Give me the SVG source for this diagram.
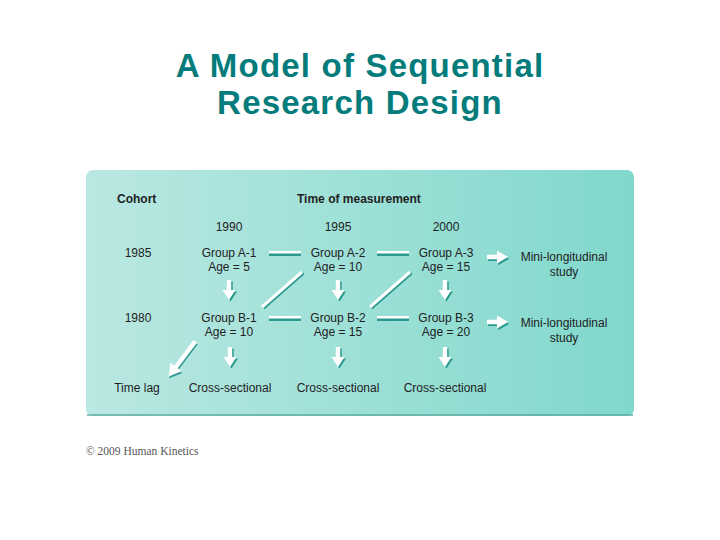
<svg xmlns="http://www.w3.org/2000/svg" width="720" height="540" viewBox="0 0 720 540">
<defs>
<linearGradient id="panelGrad" x1="0" y1="0" x2="1" y2="0">
<stop offset="0" stop-color="#bae8e2"/>
<stop offset="1" stop-color="#80d8cc"/>
</linearGradient>
<path id="downShape" d="M-2.2,-10 H2.2 V0 H6.5 L0,10 L-6.5,0 H-2.2 Z"/>
<path id="rightShape" d="M-10,-2.2 H0 V-6.5 L11,0 L0,6.5 V2.2 H-10 Z"/>
<path id="lagShape" d="M-2.2,-22 H2.2 V10 H7 L0,22 L-7,10 H-2.2 Z"/>
<g id="arrowDown"><use href="#downShape" class="shadow" transform="translate(1.5,1.5)"/><use href="#downShape" class="hl"/></g>
<g id="arrowRight"><use href="#rightShape" class="shadow" transform="translate(1.2,1.8)"/><use href="#rightShape" class="hl"/></g>
<g id="bar"><rect x="0" y="1.5" width="32" height="3.5" class="shadow"/><rect x="0" y="0" width="32" height="2.5" class="hl"/></g>
<g id="diag"><line x1="1.5" y1="36" x2="41.5" y2="1" class="shadowline"/><line x1="0" y1="35" x2="40" y2="0" class="hlline"/></g>
</defs>
<style>
.title{font-family:"Liberation Sans",Arial,sans-serif;font-weight:bold;font-size:33px;letter-spacing:1.2px;fill:#047c7c;text-anchor:middle}
.lbl{font-family:"Liberation Sans",Arial,sans-serif;font-size:12px;fill:#222;text-anchor:middle}
.hdr{font-family:"Liberation Sans",Arial,sans-serif;font-size:12px;font-weight:bold;fill:#222}
.copy{font-family:"Liberation Serif","Times New Roman",serif;font-size:11.5px;fill:#555}
.hl{fill:#ffffff}
.shadow{fill:#2a9a90}
.hlline{stroke:#ffffff;stroke-width:3}
.shadowline{stroke:#2a9a90;stroke-width:3}
</style>
<rect width="720" height="540" fill="#ffffff"/>
<text class="title" x="360" y="77">A Model of Sequential</text>
<text class="title" x="360" y="114">Research Design</text>

<rect x="86" y="170" width="548" height="246" rx="7" fill="url(#panelGrad)"/>
<rect x="87" y="414" width="546" height="2" fill="#5aa8a0" opacity="0.7"/>

<g id="headers">
<text class="hdr" x="117" y="203">Cohort</text>
<text class="hdr" x="297" y="203">Time of measurement</text>
<text class="lbl" x="229" y="231">1990</text>
<text class="lbl" x="338" y="231">1995</text>
<text class="lbl" x="446" y="231">2000</text>
<text class="lbl" x="138" y="257">1985</text>
<text class="lbl" x="138" y="322">1980</text>
</g>

<g id="groupA1"><text class="lbl" x="229" y="257">Group A-1</text><text class="lbl" x="229" y="271">Age = 5</text></g>
<g id="groupA2"><text class="lbl" x="338" y="257">Group A-2</text><text class="lbl" x="338" y="271">Age = 10</text></g>
<g id="groupA3"><text class="lbl" x="446" y="257">Group A-3</text><text class="lbl" x="446" y="271">Age = 15</text></g>
<g id="miniA"><text class="lbl" x="564" y="261">Mini-longitudinal</text><text class="lbl" x="564" y="276">study</text></g>

<g id="groupB1"><text class="lbl" x="229" y="322">Group B-1</text><text class="lbl" x="229" y="336">Age = 10</text></g>
<g id="groupB2"><text class="lbl" x="338" y="322">Group B-2</text><text class="lbl" x="338" y="336">Age = 15</text></g>
<g id="groupB3"><text class="lbl" x="446" y="322">Group B-3</text><text class="lbl" x="446" y="336">Age = 20</text></g>
<g id="miniB"><text class="lbl" x="564" y="327">Mini-longitudinal</text><text class="lbl" x="564" y="342">study</text></g>

<g id="timeLag"><text class="lbl" x="137" y="392">Time lag</text></g>
<g id="cross1"><text class="lbl" x="230" y="392">Cross-sectional</text></g>
<g id="cross2"><text class="lbl" x="338" y="392">Cross-sectional</text></g>
<g id="cross3"><text class="lbl" x="445" y="392">Cross-sectional</text></g>

<g id="connectors">
<use href="#bar" x="269" y="251"/>
<use href="#bar" x="377" y="251"/>
<use href="#bar" x="269" y="316"/>
<use href="#bar" x="377" y="316"/>
<use href="#diag" x="262" y="272"/>
<use href="#diag" x="370" y="272"/>
<use href="#arrowDown" x="229" y="290"/>
<use href="#arrowDown" x="338" y="290"/>
<use href="#arrowDown" x="445" y="290"/>
<use href="#arrowDown" x="230" y="357"/>
<use href="#arrowDown" x="338" y="357"/>
<use href="#arrowDown" x="445" y="357"/>
<use href="#arrowRight" x="497" y="257"/>
<use href="#arrowRight" x="497" y="322"/>
<g transform="translate(182,359) rotate(37)"><use href="#lagShape" class="shadow" transform="translate(1.5,1)"/><use href="#lagShape" class="hl"/></g>
</g>

<text class="copy" x="86" y="455">© 2009 Human Kinetics</text>
</svg>
